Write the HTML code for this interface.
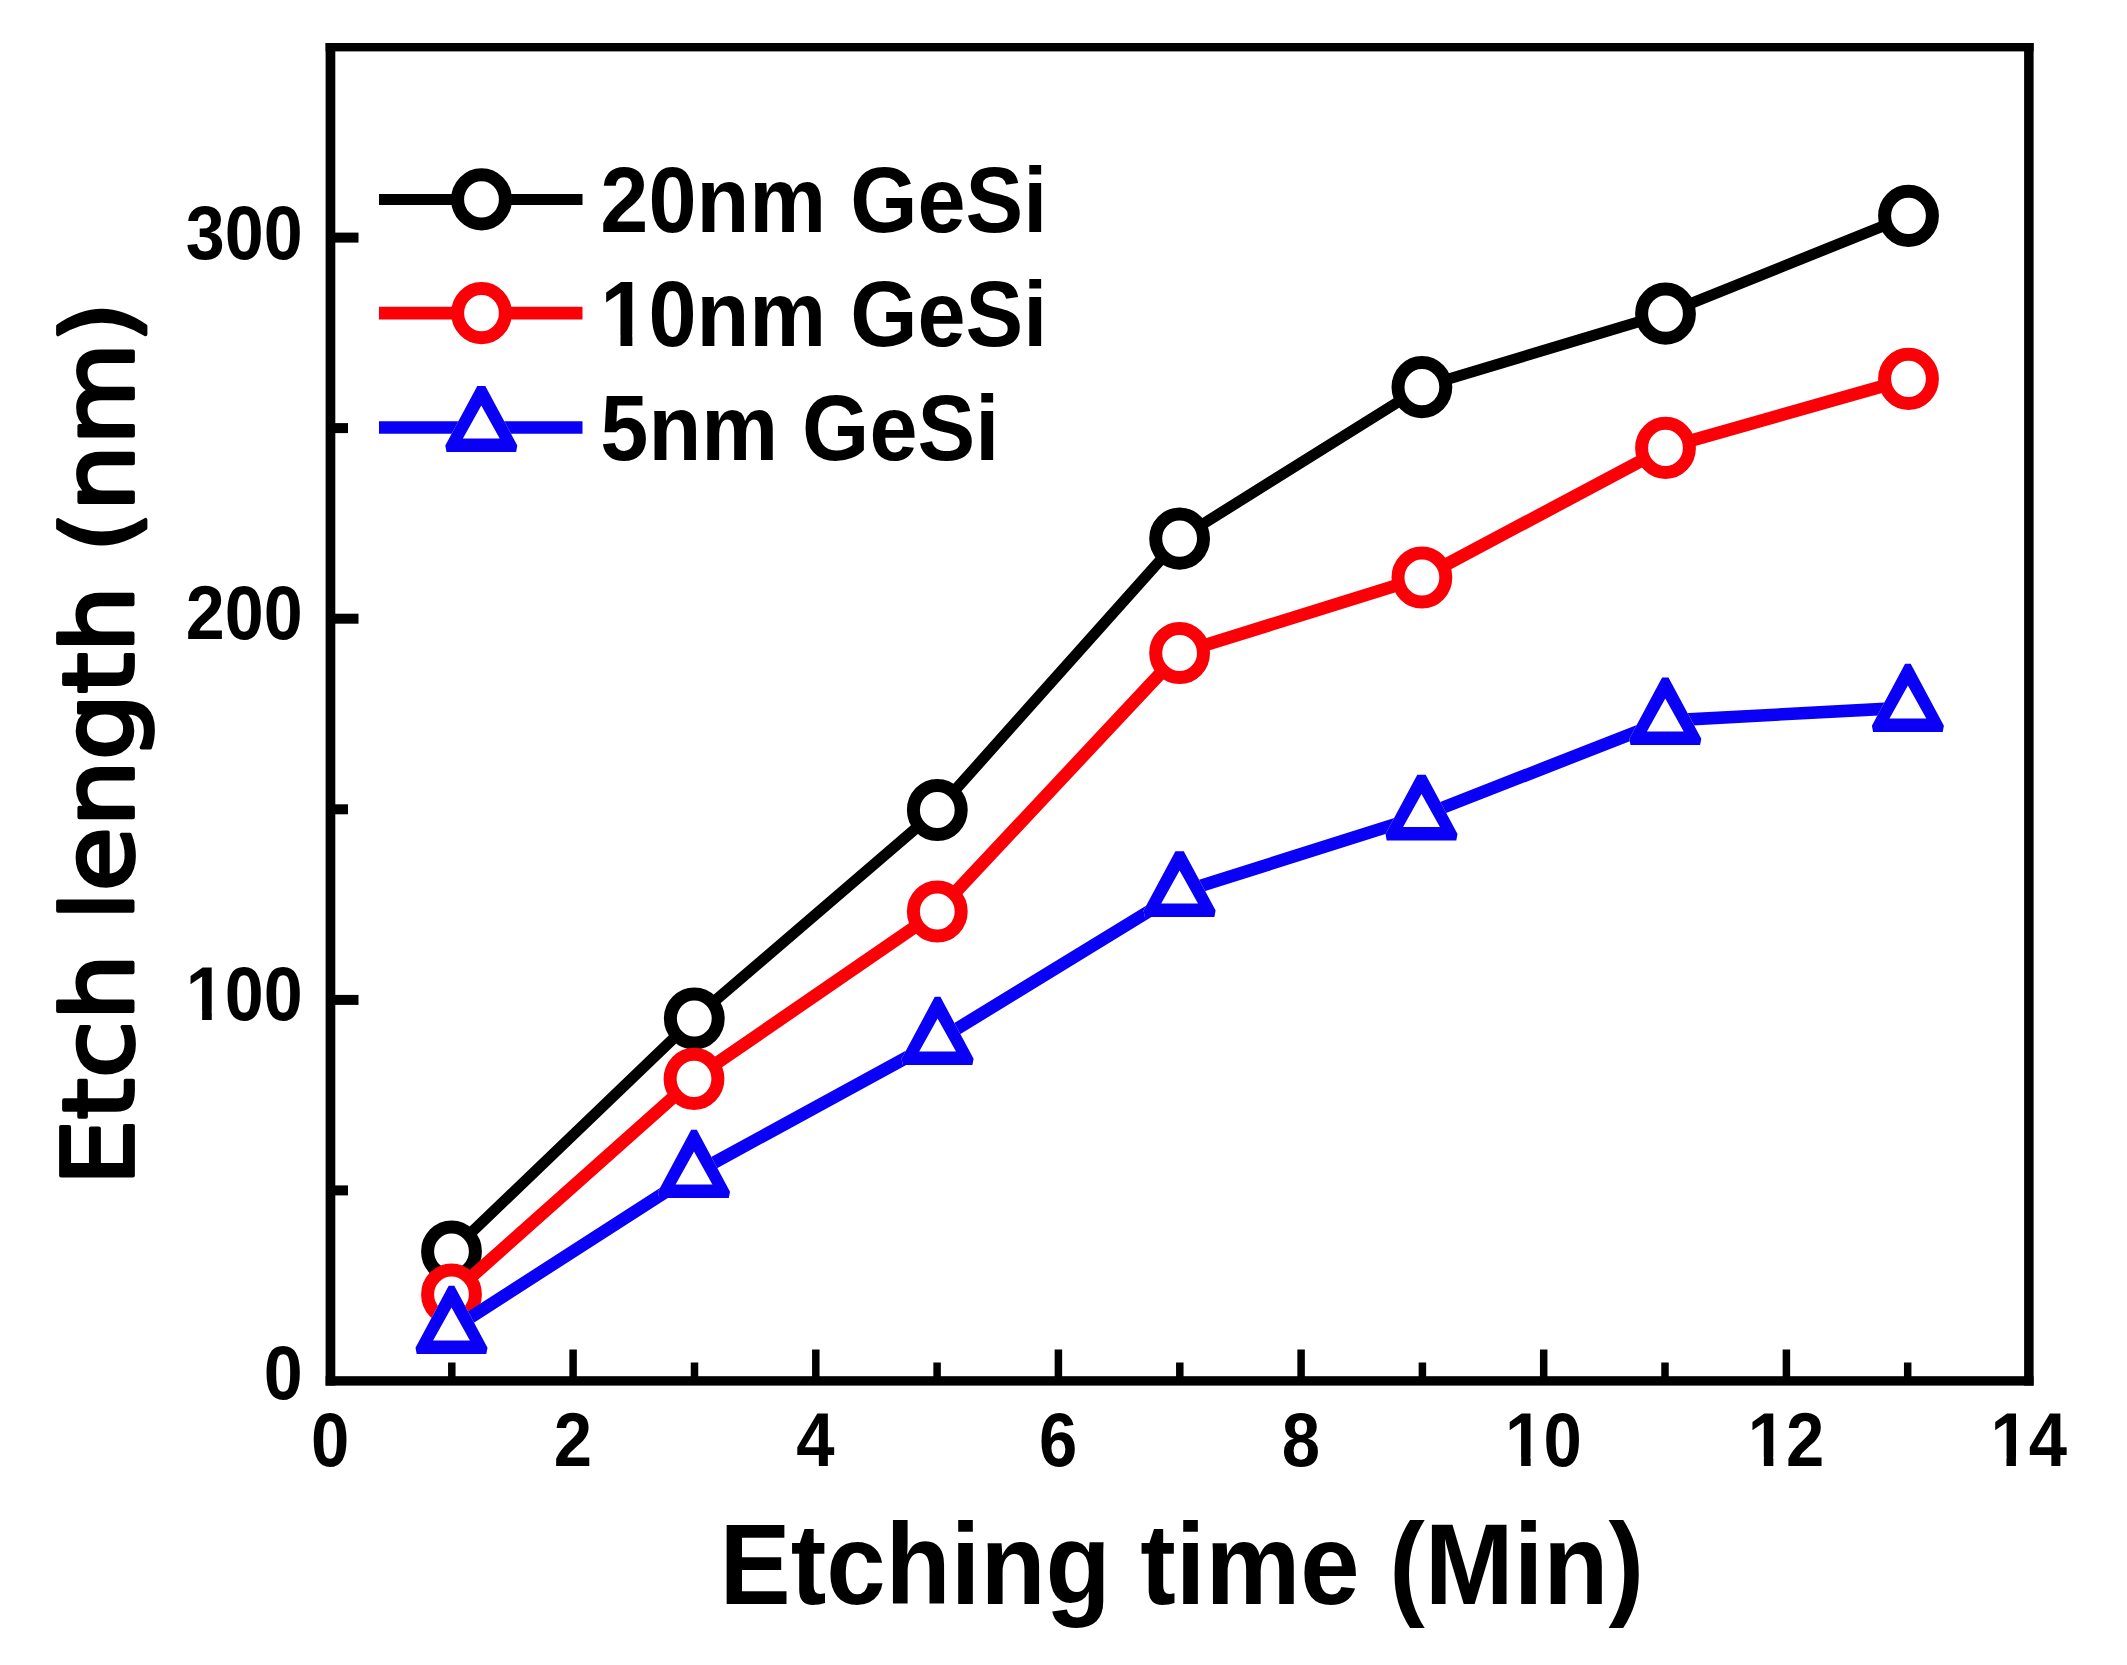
<!DOCTYPE html>
<html lang="en">
<head>
<meta charset="utf-8">
<title>Etch length vs etching time</title>
<style>
html,body{margin:0;padding:0;background:#fff;}
body{width:2127px;height:1665px;overflow:hidden;}
svg{display:block;}
.lab{font-family:"Liberation Sans",Arial,Helvetica,sans-serif;font-weight:bold;fill:#000;}
.ylab{font-family:"DejaVu Sans",Verdana,Tahoma,sans-serif;font-weight:normal;fill:#000;}
</style>
</head>
<body>
<svg width="2127" height="1665" viewBox="0 0 2127 1665">
<rect x="0" y="0" width="2127" height="1665" fill="#ffffff"/>
<g stroke="#000" fill="none" stroke-linecap="butt">
<line x1="573.1" y1="1381.0" x2="573.1" y2="1349.5" stroke-width="7.5"/>
<line x1="815.8" y1="1381.0" x2="815.8" y2="1349.5" stroke-width="7.5"/>
<line x1="1058.4" y1="1381.0" x2="1058.4" y2="1349.5" stroke-width="7.5"/>
<line x1="1301.1" y1="1381.0" x2="1301.1" y2="1349.5" stroke-width="7.5"/>
<line x1="1543.7" y1="1381.0" x2="1543.7" y2="1349.5" stroke-width="7.5"/>
<line x1="1786.4" y1="1381.0" x2="1786.4" y2="1349.5" stroke-width="7.5"/>
<line x1="451.8" y1="1381.0" x2="451.8" y2="1362.5" stroke-width="7.5"/>
<line x1="694.5" y1="1381.0" x2="694.5" y2="1362.5" stroke-width="7.5"/>
<line x1="937.1" y1="1381.0" x2="937.1" y2="1362.5" stroke-width="7.5"/>
<line x1="1179.8" y1="1381.0" x2="1179.8" y2="1362.5" stroke-width="7.5"/>
<line x1="1422.4" y1="1381.0" x2="1422.4" y2="1362.5" stroke-width="7.5"/>
<line x1="1665.0" y1="1381.0" x2="1665.0" y2="1362.5" stroke-width="7.5"/>
<line x1="1907.7" y1="1381.0" x2="1907.7" y2="1362.5" stroke-width="7.5"/>
<line x1="330.5" y1="999.9" x2="358.5" y2="999.9" stroke-width="10.0"/>
<line x1="330.5" y1="618.7" x2="358.5" y2="618.7" stroke-width="10.0"/>
<line x1="330.5" y1="237.6" x2="358.5" y2="237.6" stroke-width="10.0"/>
<line x1="330.5" y1="1190.4" x2="348.0" y2="1190.4" stroke-width="10.0"/>
<line x1="330.5" y1="809.3" x2="348.0" y2="809.3" stroke-width="10.0"/>
<line x1="330.5" y1="428.1" x2="348.0" y2="428.1" stroke-width="10.0"/>
</g>
<g>
<polyline points="451.5,1251.5 694.3,1018.5 937.3,810.0 1179.6,538.6 1421.9,387.1 1665.5,313.7 1908.5,215.8" fill="none" stroke="#000000" stroke-width="11.0" stroke-linejoin="round"/>
<ellipse cx="451.5" cy="1251.5" rx="23.9" ry="24.6" fill="#fff" stroke="#000000" stroke-width="13"/>
<ellipse cx="694.3" cy="1018.5" rx="23.9" ry="24.6" fill="#fff" stroke="#000000" stroke-width="13"/>
<ellipse cx="937.3" cy="810.0" rx="23.9" ry="24.6" fill="#fff" stroke="#000000" stroke-width="13"/>
<ellipse cx="1179.6" cy="538.6" rx="23.9" ry="24.6" fill="#fff" stroke="#000000" stroke-width="13"/>
<ellipse cx="1421.9" cy="387.1" rx="23.9" ry="24.6" fill="#fff" stroke="#000000" stroke-width="13"/>
<ellipse cx="1665.5" cy="313.7" rx="23.9" ry="24.6" fill="#fff" stroke="#000000" stroke-width="13"/>
<ellipse cx="1908.5" cy="215.8" rx="23.9" ry="24.6" fill="#fff" stroke="#000000" stroke-width="13"/>
<polyline points="451.5,1294.5 694.0,1078.8 937.3,911.5 1179.6,653.0 1421.9,577.5 1665.5,447.9 1908.5,378.8" fill="none" stroke="#fb0007" stroke-width="12.8" stroke-linejoin="round"/>
<ellipse cx="451.5" cy="1294.5" rx="23.9" ry="24.6" fill="#fff" stroke="#fb0007" stroke-width="13"/>
<ellipse cx="694.0" cy="1078.8" rx="23.9" ry="24.6" fill="#fff" stroke="#fb0007" stroke-width="13"/>
<ellipse cx="937.3" cy="911.5" rx="23.9" ry="24.6" fill="#fff" stroke="#fb0007" stroke-width="13"/>
<ellipse cx="1179.6" cy="653.0" rx="23.9" ry="24.6" fill="#fff" stroke="#fb0007" stroke-width="13"/>
<ellipse cx="1421.9" cy="577.5" rx="23.9" ry="24.6" fill="#fff" stroke="#fb0007" stroke-width="13"/>
<ellipse cx="1665.5" cy="447.9" rx="23.9" ry="24.6" fill="#fff" stroke="#fb0007" stroke-width="13"/>
<ellipse cx="1908.5" cy="378.8" rx="23.9" ry="24.6" fill="#fff" stroke="#fb0007" stroke-width="13"/>
<polyline points="451.5,1329.6 694.0,1173.6 937.6,1040.6 1179.6,892.5 1421.5,816.0 1665.3,720.6 1907.9,707.6" fill="none" stroke="#0a00f6" stroke-width="12.6" stroke-linejoin="round"/>
<path d="M448.7,1285.8 L454.3,1285.8 L487.5,1347.7 L486.3,1354.0 L416.7,1354.0 L415.5,1347.7 Z" fill="#fff"/><path d="M448.7,1285.8 L454.3,1285.8 L487.5,1347.7 L486.3,1354.0 L416.7,1354.0 L415.5,1347.7 Z M451.5,1307.6 L469.9,1340.6 L433.1,1340.6 Z" fill="#0a00f6" fill-rule="evenodd"/>
<path d="M691.2,1129.8 L696.8,1129.8 L730.0,1191.7 L728.8,1198.0 L659.2,1198.0 L658.0,1191.7 Z" fill="#fff"/><path d="M691.2,1129.8 L696.8,1129.8 L730.0,1191.7 L728.8,1198.0 L659.2,1198.0 L658.0,1191.7 Z M694.0,1151.6 L712.4,1184.6 L675.6,1184.6 Z" fill="#0a00f6" fill-rule="evenodd"/>
<path d="M934.8,996.8 L940.4,996.8 L973.6,1058.7 L972.4,1065.0 L902.8,1065.0 L901.6,1058.7 Z" fill="#fff"/><path d="M934.8,996.8 L940.4,996.8 L973.6,1058.7 L972.4,1065.0 L902.8,1065.0 L901.6,1058.7 Z M937.6,1018.6 L956.0,1051.6 L919.2,1051.6 Z" fill="#0a00f6" fill-rule="evenodd"/>
<path d="M1175.4,851.3 L1183.8,851.3 L1215.6,910.6 L1214.4,916.9 L1144.8,916.9 L1143.6,910.6 Z" fill="#fff"/><path d="M1175.4,851.3 L1183.8,851.3 L1215.6,910.6 L1214.4,916.9 L1144.8,916.9 L1143.6,910.6 Z M1179.6,870.5 L1198.0,903.5 L1161.2,903.5 Z" fill="#0a00f6" fill-rule="evenodd"/>
<path d="M1417.3,774.7 L1425.7,774.7 L1457.5,834.1 L1456.3,840.4 L1386.7,840.4 L1385.5,834.1 Z" fill="#fff"/><path d="M1417.3,774.7 L1425.7,774.7 L1457.5,834.1 L1456.3,840.4 L1386.7,840.4 L1385.5,834.1 Z M1421.5,794.0 L1439.9,827.0 L1403.1,827.0 Z" fill="#0a00f6" fill-rule="evenodd"/>
<path d="M1662.1,677.6 L1668.5,677.6 L1701.3,738.7 L1700.1,745.0 L1630.5,745.0 L1629.3,738.7 Z" fill="#fff"/><path d="M1662.1,677.6 L1668.5,677.6 L1701.3,738.7 L1700.1,745.0 L1630.5,745.0 L1629.3,738.7 Z M1665.3,698.6 L1683.7,731.6 L1646.9,731.6 Z" fill="#0a00f6" fill-rule="evenodd"/>
<path d="M1905.1,663.8 L1910.7,663.8 L1943.9,725.7 L1942.7,732.0 L1873.1,732.0 L1871.9,725.7 Z" fill="#fff"/><path d="M1905.1,663.8 L1910.7,663.8 L1943.9,725.7 L1942.7,732.0 L1873.1,732.0 L1871.9,725.7 Z M1907.9,685.6 L1926.3,718.6 L1889.5,718.6 Z" fill="#0a00f6" fill-rule="evenodd"/>
</g>
<g fill="#000">
<rect x="325.6" y="43.0" width="1708.0" height="8.4"/>
<rect x="325.6" y="1376.2" width="1708.0" height="9.4"/>
<rect x="325.6" y="43.0" width="9.7" height="1342.6"/>
<rect x="2024.1" y="43.0" width="9.5" height="1342.6"/>
</g>
<g>
<line x1="379" y1="199.4" x2="582.5" y2="199.4" stroke="#000000" stroke-width="11.0"/>
<ellipse cx="481.5" cy="199.4" rx="23.9" ry="24.6" fill="#fff" stroke="#000000" stroke-width="13"/>
<g transform="translate(600.3,232.3) scale(0.9340,1)"><text class="lab" font-size="92.6" text-anchor="start" style="font-kerning:none">20nm GeSi</text></g>
<line x1="379" y1="313.1" x2="582.5" y2="313.1" stroke="#fb0007" stroke-width="12.8"/>
<ellipse cx="481.5" cy="313.1" rx="23.9" ry="24.6" fill="#fff" stroke="#fb0007" stroke-width="13"/>
<g transform="translate(600.3,345.9) scale(0.9340,1)"><text class="lab" font-size="92.6" text-anchor="start" style="font-kerning:none">10nm GeSi</text><rect x="4.07" y="-10.39" width="17.54" height="12.09" fill="#fff"/><rect x="34.32" y="-10.39" width="16.32" height="12.09" fill="#fff"/></g>
<line x1="379" y1="427.5" x2="582.5" y2="427.5" stroke="#0a00f6" stroke-width="12.6"/>
<path d="M477.3,385.9 L485.3,385.9 L517.3,445.6 L516.1,451.9 L446.5,451.9 L445.3,445.6 Z" fill="#fff"/><path d="M477.3,385.9 L485.3,385.9 L517.3,445.6 L516.1,451.9 L446.5,451.9 L445.3,445.6 Z M481.3,405.5 L499.7,438.5 L462.9,438.5 Z" fill="#0a00f6" fill-rule="evenodd"/>
<g transform="translate(600.3,460.1) scale(0.9340,1)"><text class="lab" font-size="92.6" text-anchor="start" style="font-kerning:none">5nm GeSi</text></g>
</g>
<g>
<g transform="translate(330.2,1465.5) scale(0.9000,1)"><text class="lab" font-size="76.5" text-anchor="middle" style="font-kerning:none">0</text></g>
<g transform="translate(572.8,1465.5) scale(0.9000,1)"><text class="lab" font-size="76.5" text-anchor="middle" style="font-kerning:none">2</text></g>
<g transform="translate(815.5,1465.5) scale(0.9000,1)"><text class="lab" font-size="76.5" text-anchor="middle" style="font-kerning:none">4</text></g>
<g transform="translate(1058.1,1465.5) scale(0.9000,1)"><text class="lab" font-size="76.5" text-anchor="middle" style="font-kerning:none">6</text></g>
<g transform="translate(1300.8,1465.5) scale(0.9000,1)"><text class="lab" font-size="76.5" text-anchor="middle" style="font-kerning:none">8</text></g>
<g transform="translate(1543.4,1465.5) scale(0.9000,1)"><text class="lab" font-size="76.5" text-anchor="middle" style="font-kerning:none">10</text><rect x="-39.18" y="-8.72" width="14.49" height="10.42" fill="#fff"/><rect x="-14.19" y="-8.72" width="13.48" height="10.42" fill="#fff"/></g>
<g transform="translate(1786.1,1465.5) scale(0.9000,1)"><text class="lab" font-size="76.5" text-anchor="middle" style="font-kerning:none">12</text><rect x="-39.18" y="-8.72" width="14.49" height="10.42" fill="#fff"/><rect x="-14.19" y="-8.72" width="13.48" height="10.42" fill="#fff"/></g>
<g transform="translate(2028.7,1465.5) scale(0.9000,1)"><text class="lab" font-size="76.5" text-anchor="middle" style="font-kerning:none">14</text><rect x="-39.18" y="-8.72" width="14.49" height="10.42" fill="#fff"/><rect x="-14.19" y="-8.72" width="13.48" height="10.42" fill="#fff"/></g>
<g transform="translate(302.6,1399.0) scale(0.9150,1)"><text class="lab" font-size="76.5" text-anchor="end" style="font-kerning:none">0</text></g>
<g transform="translate(302.6,1019.8) scale(0.9150,1)"><text class="lab" font-size="76.5" text-anchor="end" style="font-kerning:none">100</text><rect x="-124.28" y="-8.72" width="14.49" height="10.42" fill="#fff"/><rect x="-99.29" y="-8.72" width="13.48" height="10.42" fill="#fff"/></g>
<g transform="translate(302.6,638.8) scale(0.9150,1)"><text class="lab" font-size="76.5" text-anchor="end" style="font-kerning:none">200</text></g>
<g transform="translate(302.6,258.6) scale(0.9150,1)"><text class="lab" font-size="76.5" text-anchor="end" style="font-kerning:none">300</text></g>
</g>
<text class="lab" transform="translate(1181.8,1604.4) scale(0.9237,1)" font-size="115.5" text-anchor="middle">Etching time (Min)</text>
<text class="ylab" transform="translate(132.9,743.8) rotate(-90)" font-size="98.6" text-anchor="middle" textLength="884" lengthAdjust="spacingAndGlyphs" stroke="#000" stroke-width="3.8" stroke-linejoin="round">Etch length (nm)</text>
</svg>
</body>
</html>
